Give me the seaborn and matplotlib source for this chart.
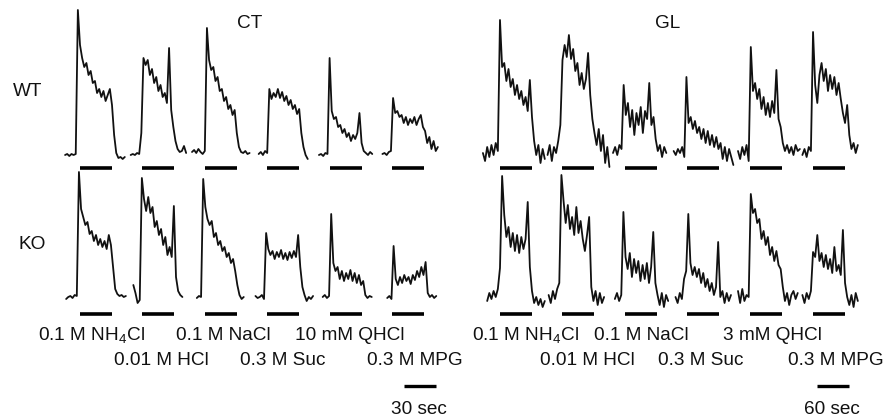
import numpy as np
import pandas as pd
import matplotlib
matplotlib.use("Agg")
import matplotlib.pyplot as plt
import seaborn as sns

sns.set_theme(style="white")
plt.rcParams["font.family"] = ["Liberation Sans", "DejaVu Sans"]
plt.rcParams["mathtext.fontset"] = "custom"
plt.rcParams["mathtext.rm"] = "Liberation Sans"
plt.rcParams["mathtext.default"] = "regular"

# ---- stimuli -------------------------------------------------------------
stimuli_ct = ["0.1 M NH$_4$Cl", "0.01 M HCl", "0.1 M NaCl",
              "0.3 M Suc", "10 mM QHCl", "0.3 M MPG"]
stimuli_gl = ["0.1 M NH$_4$Cl", "0.01 M HCl", "0.1 M NaCl",
              "0.3 M Suc", "3 mM QHCl", "0.3 M MPG"]
nerves = ["CT", "GL"]
genotypes = ["WT", "KO"]
scale_labels = ["30 sec", "60 sec"]

# sampling interval and stimulation time (s)
ct_dt, gl_dt = 2.0, 4.0
ct_stim, gl_stim = 30.0, 60.0

# recording time before stimulus onset (s)
ct_wt_pre = [14, 11, 12, 8, 10, 9]
ct_ko_pre = [13, 8.5, 7.5, 11, 6.5, 4.5]
gl_wt_pre = [32, 28, 22.5, 26, 22.5, 19]
gl_ko_pre = [24, 26, 19, 22.5, 22.5, 19]

# integrated nerve responses (relative units, baseline = 0)
ct_wt = [
    [0, 1, -1, 1, 0, 1, 145, 110, 97, 88, 92, 80, 84, 72, 74, 62, 66, 58, 64,
     54, 60, 66, 50, 20, 2, -3, -2, -4, -2],
    [0, 1, 0, 2, 1, 22, 97, 90, 95, 80, 86, 72, 78, 64, 70, 58, 62, 52, 107,
     45, 28, 14, 6, 3, 4, 9, 2],
    [3, 5, 2, 6, 3, 1, 4, 127, 95, 85, 88, 74, 78, 64, 66, 54, 58, 46, 50, 40,
     45, 22, 8, 3, 2, 4, 1, 2],
    [1, 3, 0, 4, 2, 66, 56, 62, 58, 66, 57, 63, 54, 59, 50, 55, 46, 50, 41,
     46, 22, 8, 0, -4],
    [0, 1, -1, 2, 1, 97, 44, 36, 38, 28, 30, 22, 26, 18, 22, 14, 20, 16, 22,
     42, 12, 4, 2, 0, 3, 1],
    [1, 2, 0, 3, 4, 57, 42, 44, 38, 40, 32, 38, 30, 36, 32, 38, 30, 36, 40,
     28, 24, 12, 18, 6, 14, 4, 8],
]
ct_ko = [
    [-2, 0, 1, -1, 2, 1, 125, 88, 80, 72, 75, 63, 66, 56, 62, 52, 58, 50, 56,
     48, 62, 52, 30, 8, 3, 1, 2, 0, 1],
    [12, 4, -6, -3, 119, 98, 86, 100, 84, 90, 70, 76, 62, 68, 52, 60, 42, 50,
     40, 91, 20, 6, 2, 0],
    [-1, 1, 0, 118, 90, 78, 72, 76, 60, 64, 52, 56, 46, 50, 40, 44, 34, 38,
     26, 12, 2, -2, 0],
    [1, -1, 0, 2, -2, 64, 48, 42, 46, 38, 45, 40, 47, 38, 44, 37, 45, 39, 46,
     40, 62, 30, 10, 2, -4, 0, -2, 1],
    [0, 2, -1, 1, 83, 34, 26, 30, 18, 26, 16, 24, 18, 27, 16, 24, 14, 22, 12,
     16, 2, -1, 1, 0],
    [-1, 1, -2, 51, 18, 12, 20, 14, 22, 16, 20, 13, 22, 17, 26, 20, 30, 22,
     35, 4, 0, 2, -1, 1],
]
gl_wt = [
    [2, -6, 8, -2, 10, 0, 12, 4, 135, 88, 92, 74, 86, 68, 76, 60, 70, 56, 64,
     50, 58, 44, 75, 38, 14, 0, 10, -8, 6, -4],
    [0, 10, -6, 8, 2, 14, 30, 95, 110, 98, 120, 96, 106, 84, 92, 70, 82, 66,
     76, 102, 60, 36, 22, 10, 26, 4, 20, -8, 8, -12],
    [2, 8, 0, 10, 6, 70, 40, 52, 28, 45, 20, 42, 30, 48, 22, 44, 36, 72, 30,
     38, 16, 4, 10, -2, 8, 2],
    [4, 0, 6, 2, 8, -2, 78, 32, 38, 26, 34, 22, 28, 16, 26, 12, 24, 10, 20, 8,
     18, 6, 12, -4, 8, -6, 6, -2, -10],
    [4, -4, 8, 0, 10, -6, 108, 64, 72, 56, 66, 46, 58, 40, 52, 38, 54, 42, 85,
     36, 28, 12, 4, 10, 2, 8, 0, 10, 4, 6],
    [0, 6, -2, 8, 4, 123, 70, 52, 80, 92, 74, 86, 64, 80, 66, 78, 60, 72, 56,
     42, 32, 50, 20, 6, 12, 2, 10],
]
gl_ko = [
    [-4, 4, -2, 6, 0, 8, 29, 121, 82, 60, 70, 50, 64, 46, 62, 44, 60, 48, 58,
     95, 30, 6, -6, 0, -8, -2, -10, -4],
    [2, -6, 6, -2, 8, 14, 122, 96, 74, 92, 68, 80, 62, 90, 64, 76, 58, 46, 62,
     80, 10, -4, 6, -8, 4, -6, 0],
    [-2, 4, -4, 2, 85, 40, 28, 44, 20, 38, 24, 36, 16, 32, 18, 34, 14, 30, 65,
     14, 2, -8, 4, -10, 2, -4],
    [0, -6, 4, -2, 18, 26, 83, 34, 22, 30, 20, 28, 14, 24, 10, 18, 6, 14, 2,
     10, 55, 0, 6, -6, 4, -4, 2],
    [6, -6, 8, -4, 2, 0, 103, 84, 88, 74, 78, 58, 66, 52, 60, 42, 50, 36, 46,
     32, 28, 10, -4, 4, -8, 2, 6, -2, 4],
    [2, -6, 4, -2, 6, 45, 40, 62, 36, 44, 30, 42, 28, 38, 24, 50, 26, 32, 22,
     67, 14, 0, -8, 2, -10, 4, -4],
]

# ---- figure ---------------------------------------------------------------
W, H = 892, 419
fig = plt.figure(figsize=(W / 100, H / 100), dpi=100)


def px_axes(x0, x1, y0, y1):
    ax = fig.add_axes([x0 / W, 1 - y1 / H, (x1 - x0) / W, (y1 - y0) / H])
    ax.set_axis_off()
    ax.patch.set_alpha(0)
    return ax


# horizontal layout per nerve: axes extent (px), time limits, slot spacing
layout = {
    "CT": dict(px=(40, 460), xlim=(-37.5, 356.25), slot=58.5,
               dt=ct_dt, stim=ct_stim, scale_x=304.0),
    "GL": dict(px=(465, 890), xlim=(-65.6, 731.3), slot=117.2,
               dt=gl_dt, stim=gl_stim, scale_x=594.5),
}
rows = {
    "WT": dict(py=(0, 180), ylim=(-25, 155), bar_y=-13.5),
    "KO": dict(py=(170, 419), ylim=(-122, 127), bar_y=-16.5),
}
panels = {
    ("CT", "WT"): (ct_wt, ct_wt_pre),
    ("CT", "KO"): (ct_ko, ct_ko_pre),
    ("GL", "WT"): (gl_wt, gl_wt_pre),
    ("GL", "KO"): (gl_ko, gl_ko_pre),
}

trace_color = "#111111"
axes = {}
for (nerve, geno), (traces, pre) in panels.items():
    L, R = layout[nerve], rows[geno]
    ax = px_axes(L["px"][0], L["px"][1], R["py"][0], R["py"][1])
    ax.set_xlim(*L["xlim"])
    ax.set_ylim(*R["ylim"])
    axes[(nerve, geno)] = ax
    for i, (vals, p) in enumerate(zip(traces, pre)):
        onset = i * L["slot"]
        t = onset - p + L["dt"] * np.arange(len(vals))
        df = pd.DataFrame({"t": t, "v": vals})
        sns.lineplot(data=df, x="t", y="v", ax=ax, color=trace_color,
                     linewidth=1.3, estimator=None, sort=False, legend=False)
        # stimulation bar
        ax.hlines(R["bar_y"], onset, onset + L["stim"], color="black",
                  linewidth=2.6)
    ax.set_axis_off()

# time scale bars
for nerve in nerves:
    L = layout[nerve]
    ax = axes[(nerve, "KO")]
    ax.hlines(-89, L["scale_x"], L["scale_x"] + L["stim"], color="black",
              linewidth=2.4)

# ---- text -------------------------------------------------------------------
fs = 13.7


def ftext(x, y, s, **kw):
    fig.text(x / W, 1 - y / H, s, fontsize=fs, ha="center", va="center",
             color="#111111", **kw)


ftext(250, 24, nerves[0])
ftext(668, 24, nerves[1])
ftext(28, 91, genotypes[0])
ftext(32, 244, genotypes[1])

ct_label_pos = [(91, 335), (161, 360), (223, 335), (283, 360), (350, 335),
                (415, 360)]
gl_label_pos = [(525, 335), (587, 360), (641, 335), (701, 360), (772, 335),
                (836, 360)]
for s, (x, y) in zip(stimuli_ct, ct_label_pos):
    ftext(x, y, s)
for s, (x, y) in zip(stimuli_gl, gl_label_pos):
    ftext(x, y, s)

ftext(419, 409, scale_labels[0])
ftext(832, 409, scale_labels[1])

fig.savefig("out.png", dpi=100)
